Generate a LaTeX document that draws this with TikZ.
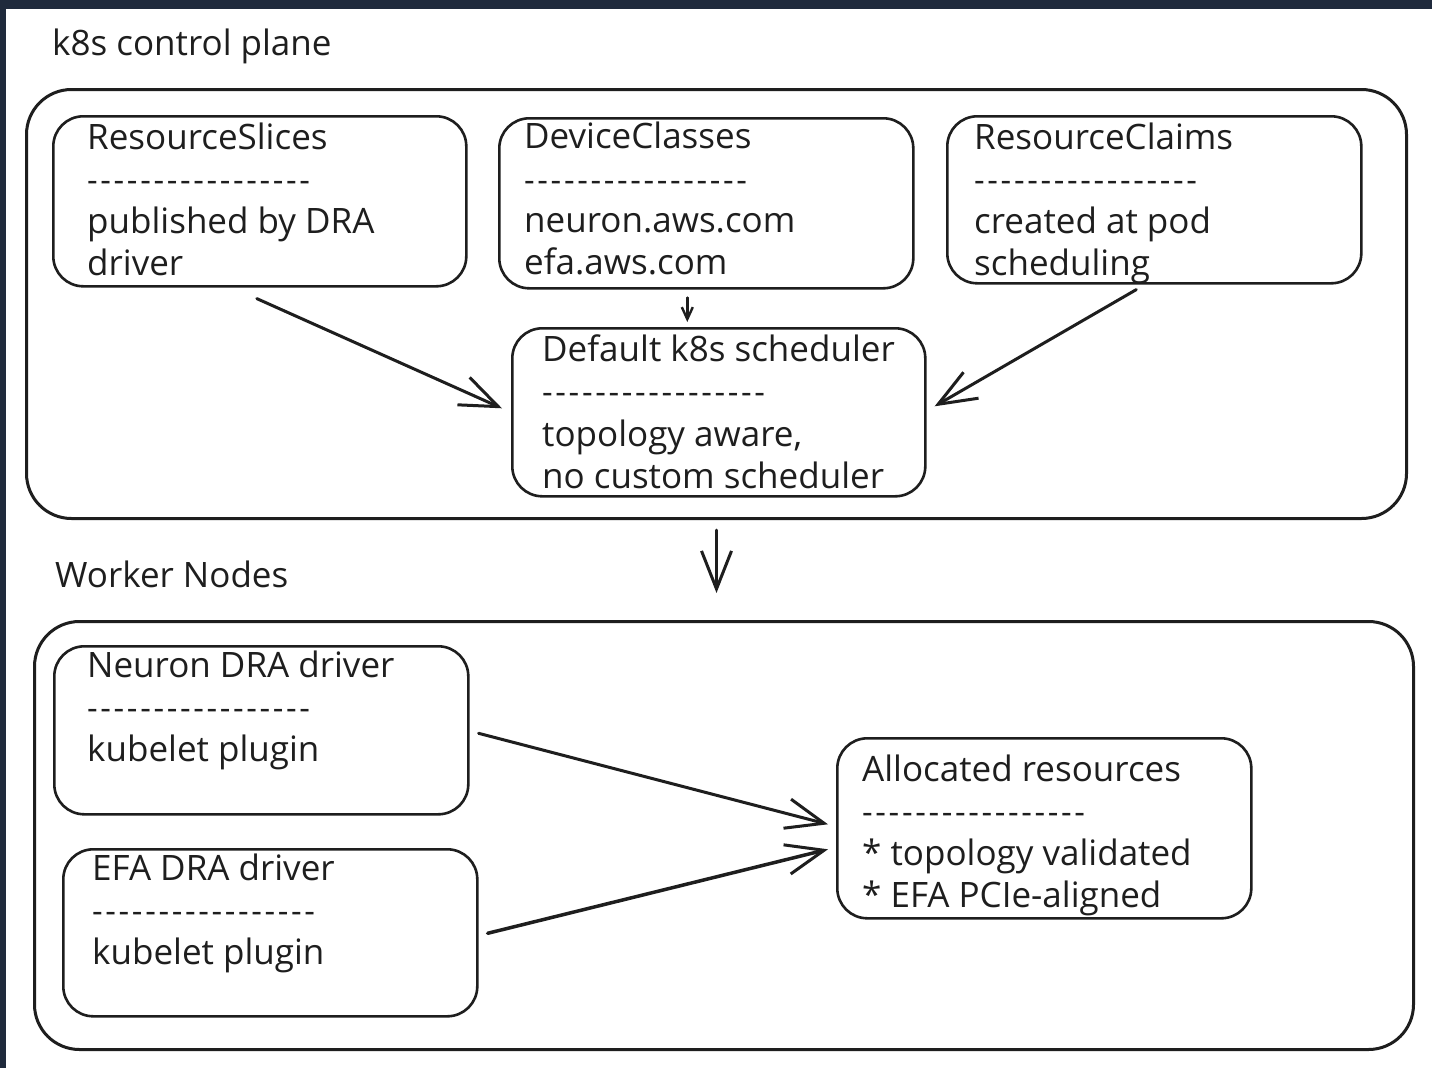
\documentclass[tikz,border=0pt]{standalone}
\usepackage{fontspec}
\setmainfont{Open Sans}
\newfontfamily\dashfont[LetterSpace=8]{Open Sans}
\usetikzlibrary{arrows.meta}
\definecolor{ink}{HTML}{1E1E1E}
\definecolor{frame}{HTML}{1F2A3C}
\begin{document}
\begin{tikzpicture}[x=1pt,y=-1pt,
  outer/.style={draw=ink, line width=3pt, rounded corners=45pt, inner sep=0pt, anchor=north west},
  card/.style={draw=ink, line width=2.6pt, rounded corners=30pt, inner sep=0pt, anchor=north west},
  txt/.style={anchor=base west, inner sep=0pt, text=ink, font=\fontsize{35}{42}\selectfont},
  dashline/.style={anchor=west, inner sep=0pt, text=ink, font=\dashfont\fontsize{33}{40}\selectfont},
  conn/.style={draw=ink, line width=3pt, line cap=round, -{Straight Barb[length=38pt,width=30pt,line width=3pt]}},
  smallconn/.style={draw=ink, line width=2.4pt, line cap=round, -{Straight Barb[length=12pt,width=11pt,line width=2.4pt]}},
]
\useasboundingbox (0,0) rectangle (1432,1068);
\fill[white] (0,0) rectangle (1432,1068);
\fill[frame] (0,0) rectangle (1432,9);
\fill[frame] (0,0) rectangle (6,1068);

% outer groups
\node[txt] (cpl) at (52,55) {k8s control plane};
\node[outer, minimum width=1380pt, minimum height=429pt] (cp) at (25,88) {};
\node[txt] (wnl) at (55,587) {Worker Nodes};
\node[outer, minimum width=1379pt, minimum height=428pt] (wn) at (33,620) {};

% control plane cards
\node[card, minimum width=413pt, minimum height=170pt] (rs) at (52,115) {};
\node[txt] (rs1) at (87,149) {ResourceSlices};
\node[dashline] (rs2) at (87,186) {-----------------};
\node[txt] (rs3) at (87,233) {published by DRA};
\node[txt] (rs4) at (87,275) {driver};

\node[card, minimum width=414pt, minimum height=170pt] (dc) at (498,117) {};
\node[txt] (dc1) at (524,148) {DeviceClasses};
\node[dashline] (dc2) at (524,186) {-----------------};
\node[txt] (dc3) at (524,232) {neuron.aws.com};
\node[txt] (dc4) at (524,274) {efa.aws.com};

\node[card, minimum width=414pt, minimum height=167pt] (rc) at (946,115) {};
\node[txt] (rc1) at (974,149) {ResourceClaims};
\node[dashline] (rc2) at (974,186) {-----------------};
\node[txt] (rc3) at (974,233) {created at pod};
\node[txt] (rc4) at (974,275) {scheduling};

\node[card, minimum width=413pt, minimum height=168pt] (sc) at (511,327) {};
\node[txt] (sc1) at (542,361) {Default k8s scheduler};
\node[dashline] (sc2) at (542,398) {-----------------};
\node[txt] (sc3) at (542,446) {topology aware,};
\node[txt] (sc4) at (542,488) {no custom scheduler};

% worker cards
\node[card, minimum width=414pt, minimum height=168pt] (nd) at (53,645) {};
\node[txt] (nd1) at (87,677) {Neuron DRA driver};
\node[dashline] (nd2) at (87,714) {-----------------};
\node[txt] (nd3) at (87,761) {kubelet plugin};

\node[card, minimum width=414pt, minimum height=167pt] (ed) at (62,848) {};
\node[txt] (ed1) at (92,880) {EFA DRA driver};
\node[dashline] (ed2) at (92,917) {-----------------};
\node[txt] (ed3) at (92,964) {kubelet plugin};

\node[card, minimum width=414pt, minimum height=180pt] (ar) at (836,737) {};
\node[txt] (ar1) at (862,781) {Allocated resources};
\node[dashline] (ar2) at (862,818) {-----------------};
\node[txt] (ar3) at (862,865) {* topology validated};
\node[txt] (ar4) at (862,907) {* EFA PCIe-aligned};

% connectors
\draw[conn] ([shift={(-3,11)}]rs.south) -- ([shift={(-9,-4)}]sc.west);
\draw[smallconn] ([shift={(-19,8)}]dc.south) -- ([shift={(-31.5,-5)}]sc.north);
\draw[conn] ([shift={(-18,5)}]rc.south) -- ([shift={(8,-6)}]sc.east);
\draw[conn] ([shift={(0,10)}]cp.south) -- ([shift={(-7.5,-27)}]wn.north);
\draw[conn] ([shift={(9,3)}]nd.east) -- ([shift={(-8,-4)}]ar.west);
\draw[conn, line width=3.5pt] ([shift={(9,0.5)}]ed.east) -- ([shift={(-8,21)}]ar.west);
\end{tikzpicture}
\end{document}
